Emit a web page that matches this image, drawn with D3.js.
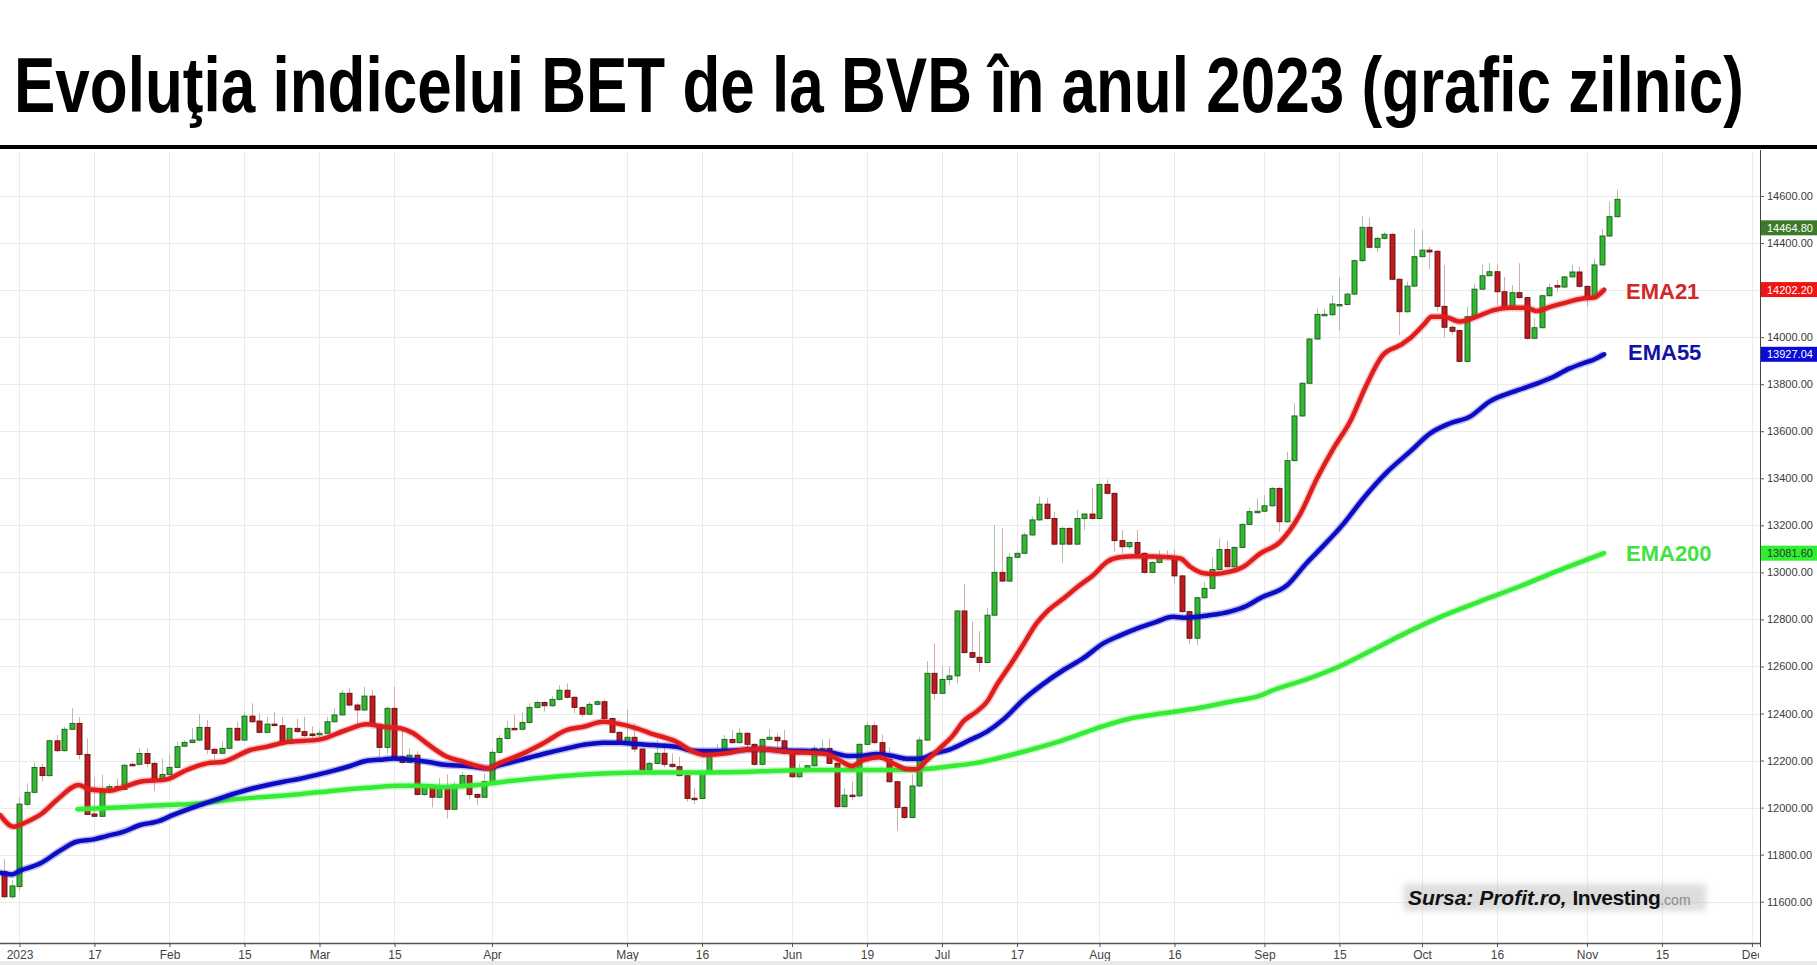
<!DOCTYPE html>
<html><head><meta charset="utf-8">
<script src="https://cdn.jsdelivr.net/npm/d3@7"></script>
<style>body{margin:0;background:#fff;overflow:hidden} svg{display:block}</style>
</head><body>
<svg id="chart" width="1817" height="965"></svg>
<script>
// ---------- DATA ----------
const titleText = "Evoluţia indicelui BET de la BVB în anul 2023 (grafic zilnic)";
const firstIndex = -2; // two sessions of late Dec 2022 precede 3 Jan 2023 (index 0)
const openV  = [11728,11621,11664,12014,12065,12171,12136,12284,12242,12333,12358,12226,11973,11963,12077,12089,12077,12184,12184,12230,12188,12121,12141,12171,12261,12277,12287,12341,12248,12231,12252,12337,12287,12389,12368,12320,12355,12348,12284,12337,12323,12313,12313,12316,12365,12394,12486,12436,12415,12474,12354,12256,12422,12216,12192,12223,12056,12086,12044,12085,11993,12096,12136,12056,12044,12110,12235,12294,12337,12333,12362,12426,12447,12433,12460,12499,12469,12426,12397,12439,12450,12379,12320,12270,12299,12249,12160,12188,12231,12184,12174,12136,12040,12039,12150,12235,12245,12290,12276,12316,12269,12184,12290,12299,12284,12231,12131,12163,12178,12252,12252,12188,12004,12053,12050,12269,12348,12276,12205,12110,12001,11958,12092,12287,12571,12486,12545,12560,12836,12659,12639,12617,12818,13000,12963,13064,13081,13159,13223,13290,13229,13120,13187,13120,13229,13248,13229,13374,13336,13135,13109,13127,13081,13000,13042,13070,13067,12985,12833,12720,12892,12932,13012,13097,13024,13106,13204,13258,13260,13283,13357,13215,13475,13665,13804,13992,14097,14095,14139,14139,14183,14325,14467,14382,14420,14437,14246,14108,14217,14342,14370,14365,14131,14042,14028,13897,14087,14204,14261,14278,14193,14118,14189,14168,13995,14040,14176,14219,14213,14256,14277,14216,14166,14307,14430,14512];
const highV  = [11781,11692,12043,12103,12192,12185,12290,12308,12344,12422,12384,12294,12128,12141,12100,12124,12188,12195,12252,12252,12195,12209,12228,12280,12287,12337,12398,12372,12255,12280,12341,12365,12408,12443,12401,12386,12405,12386,12341,12379,12386,12345,12330,12386,12422,12500,12507,12445,12514,12500,12360,12430,12514,12330,12252,12240,12095,12092,12126,12141,12110,12150,12142,12062,12145,12252,12308,12368,12394,12405,12443,12457,12452,12474,12521,12528,12474,12430,12450,12457,12460,12384,12325,12418,12358,12254,12195,12290,12273,12230,12216,12140,12082,12155,12240,12269,12308,12330,12337,12320,12273,12294,12333,12316,12330,12236,12188,12182,12266,12290,12294,12192,12085,12110,12275,12365,12362,12310,12255,12115,12005,12140,12302,12623,12698,12600,12600,12840,12950,12790,12750,12850,13201,13187,13081,13090,13169,13237,13322,13315,13258,13195,13192,13265,13252,13357,13378,13395,13340,13180,13130,13180,13085,13046,13094,13094,13097,12990,12838,12897,12960,13063,13145,13135,13110,13208,13276,13315,13329,13362,13362,13513,13719,13810,13997,14122,14121,14178,14256,14190,14330,14515,14508,14425,14446,14442,14250,14236,14459,14455,14384,14370,14306,14050,14032,14129,14228,14309,14316,14309,14256,14222,14314,14172,14080,14180,14228,14242,14260,14309,14300,14220,14335,14458,14576,14626];
const lowV   = [11615,11612,11647,12008,12060,12110,12130,12236,12238,12328,12205,11968,11960,11960,12072,12070,12074,12176,12180,12171,12070,12117,12137,12166,12257,12273,12283,12228,12203,12227,12248,12283,12283,12360,12316,12316,12345,12262,12280,12318,12300,12297,12300,12312,12360,12390,12430,12354,12410,12350,12214,12230,12210,12185,12188,12050,12050,12001,12040,11954,11988,12092,12035,12011,12040,12105,12230,12290,12330,12328,12358,12422,12408,12428,12455,12464,12401,12384,12392,12434,12374,12316,12266,12266,12235,12157,12155,12183,12171,12170,12132,12025,12015,12035,12145,12230,12240,12272,12272,12245,12177,12180,12286,12245,12227,12127,12127,12150,12174,12248,12184,11997,12000,12032,12045,12265,12270,12200,12105,11902,11950,11954,12088,12283,12457,12482,12520,12528,12655,12635,12578,12613,12814,12960,12958,13060,13077,13155,13219,13225,13115,13042,13115,13116,13180,13225,13225,13330,13088,13081,13100,13076,12995,12996,13038,13060,12953,12828,12695,12691,12888,12928,13008,13020,13020,13102,13200,13250,13255,13279,13173,13210,13470,13660,13800,13988,14092,14090,14028,14135,14178,14320,14378,14360,14415,14242,14009,14104,14213,14338,14289,14110,13998,14012,13893,13893,14083,14200,14257,14135,14113,14114,14165,13990,13991,14036,14172,14190,14209,14252,14210,14130,14162,14303,14426,14508];
const closeV = [11621,11667,12015,12065,12171,12136,12284,12242,12333,12358,12226,11971,11963,12075,12089,12077,12180,12180,12230,12188,12121,12141,12171,12259,12277,12287,12341,12248,12231,12252,12337,12287,12389,12365,12320,12355,12349,12284,12337,12323,12306,12311,12316,12365,12394,12486,12436,12415,12474,12354,12256,12422,12216,12192,12223,12056,12086,12044,12085,11993,12096,12136,12056,12044,12110,12235,12294,12337,12331,12362,12426,12447,12433,12460,12499,12469,12426,12397,12439,12450,12379,12320,12270,12299,12249,12160,12188,12231,12184,12174,12136,12039,12039,12150,12235,12245,12290,12276,12316,12269,12184,12290,12299,12284,12231,12131,12163,12178,12252,12252,12188,12004,12053,12049,12269,12348,12276,12205,12110,12001,11958,12092,12287,12571,12486,12545,12560,12836,12659,12639,12617,12818,13000,12963,13064,13081,13159,13223,13290,13229,13120,13187,13120,13229,13248,13229,13374,13336,13135,13109,13127,13081,13000,13042,13070,13064,12985,12833,12720,12892,12932,13012,13097,13024,13106,13204,13258,13260,13283,13357,13215,13475,13665,13804,13992,14097,14097,14141,14139,14183,14325,14467,14382,14420,14437,14246,14108,14217,14342,14370,14362,14131,14042,14025,13897,14087,14204,14261,14278,14193,14118,14189,14168,13995,14040,14176,14210,14213,14256,14277,14216,14166,14307,14430,14512,14586];

// x-axis: trading-session index of each labelled date
const xTickIdx    = [0, 10, 20, 30, 40, 50, 63, 81, 91, 103, 113, 123, 133, 144, 154, 166, 176, 187, 197, 209, 219, 231];
const xTickLabels = ["2023","17","Feb","15","Mar","15","Apr","May","16","Jun","19","Jul","17","Aug","16","Sep","15","Oct","16","Nov","15","Dec"];
const yTicks = [11600, 11800, 12000, 12200, 12400, 12600, 12800, 13000, 13200, 13400, 13600, 13800, 14000, 14200, 14400, 14600];

// moving averages (session index, value)
const ema21Idx = [-2.6,-0.8,1,3,5.2,7.9,9.4,12.1,13.4,16.1,19.6,22.3,25,27.2,30.8,33,35.2,40.1,43.6,46.3,48.5,50.8,52.5,54.3,57,59.2,61,62.5,64.1,66.7,69.8,73,75.2,77.8,79.6,82.3,84.1,87.6,89.8,91.2,94.3,96.5,98.7,101,103.2,105.4,107.6,109.4,111,112.5,114.7,116.5,118.3,119.6,121,122.7,124.5,125.8,127.6,129,130.3,132.1,133.8,135.6,137,139.2,141.4,143.2,145,146.7,149,151.2,153.4,154.8,156.1,157.9,159.2,161.4,163.2,165.4,168.1,170.7,173,175.2,177.4,179.6,181.8,184.1,185.4,187.2,188.3,189.9,192.1,194.3,196.6,198.7,201,202.3,204.1,206.3,208.6,209.9,211.3];
const ema21Val = [11969,11919,11940,11975,12039,12096,12077,12072,12082,12110,12120,12160,12188,12195,12245,12259,12276,12290,12330,12354,12344,12337,12316,12273,12216,12195,12177,12167,12191,12224,12273,12330,12344,12365,12358,12337,12316,12280,12238,12224,12231,12245,12249,12242,12235,12233,12228,12200,12177,12202,12214,12188,12164,12163,12202,12252,12308,12365,12408,12450,12521,12606,12691,12783,12833,12889,12946,12989,13045,13064,13069,13067,13064,13059,13024,12996,12993,13003,13024,13080,13130,13244,13399,13527,13640,13797,13924,13966,13995,14052,14087,14087,14066,14087,14115,14125,14125,14111,14129,14148,14165,14168,14202];
const ema55Idx = [-2.6,-1,0.1,2.8,5.4,7.6,9.9,11.6,13.9,16.1,18.3,20.5,22.8,25.4,27.6,30.3,32.5,35.2,37.4,39.6,41.9,44.1,46.3,48.5,49.9,51.6,54.3,57,59.6,62.3,64.1,66.7,69.8,73,75.6,77.8,80.1,82.3,84.5,87.6,89.8,92.1,94.3,96.5,98.7,101,103.2,105.4,108.1,110.7,112.5,114.3,116.5,118.3,120.1,121.8,124.1,126.7,129,131.2,133.8,136.6,139.2,141.8,144.5,146.7,149.4,151.6,153.8,155.2,156.5,158.3,161.4,163.6,165.4,169,171.6,173,176.5,179.2,182.3,185.4,188.1,190.7,193.4,196,199.2,201.8,204.1,206.7,208.5,209.8,211.3];
const ema55Val = [11723,11716,11732,11763,11817,11855,11865,11879,11898,11926,11940,11969,11997,12025,12049,12075,12092,12110,12123,12139,12157,12177,12199,12205,12209,12205,12195,12181,12177,12167,12181,12202,12228,12252,12269,12276,12276,12270,12266,12259,12242,12241,12242,12245,12249,12245,12242,12241,12235,12219,12221,12228,12219,12208,12208,12228,12248,12287,12323,12375,12457,12528,12585,12634,12698,12731,12766,12790,12811,12807,12809,12816,12833,12857,12890,12945,13039,13085,13205,13315,13425,13513,13591,13633,13662,13726,13768,13797,13825,13867,13889,13903,13927];
const ema200Idx = [7.7,10.8,15.2,19.6,24.1,28.5,33,37.4,41.9,46.3,50.8,53.4,56.5,61,65.4,69.8,74.3,78.7,83.2,87.6,92.1,96.5,101,105.4,109.4,112.5,117,120.5,123.6,127.2,130.3,134.7,139.2,143.6,148.1,152.5,157,161.4,165.4,167.2,171.6,176.1,180.5,185,189.4,195,200,205,211.3];
const ema200Val = [11993,11997,12004,12011,12018,12035,12046,12057,12072,12084,12093,12093,12088,12096,12113,12127,12139,12146,12149,12149,12149,12151,12157,12160,12160,12160,12160,12163,12174,12188,12209,12245,12287,12337,12379,12401,12422,12450,12476,12500,12545,12602,12672,12745,12810,12880,12940,13005,13082];

const emaNames  = ["EMA21", "EMA55", "EMA200"];
const emaColors = ["#e01d1d", "#0c0cc4", "#35ec35"];
const emaLabelColors = ["#d42626", "#1212a8", "#3fe23f"];
const emaLabelValues = [14202.20, 13927.04, 13081.60];
const lastPriceLabel = 14464.80;

// ---------- DRAW ----------
const svg = d3.select("#chart");
const W = 1817, H = 965;
const plot = {left: 0, right: 1760, top: 150, bottom: 943};

const x = d3.scaleLinear().domain([-2.6, 232.07]).range([plot.left, plot.right]);
const y = d3.scaleLinear().domain([11600, 14600]).range([901.7, 196]);

svg.append("rect").attr("width", W).attr("height", H).attr("fill", "#fff");

// title (condensed bold, stretched to the reference width)
const tg = svg.append("g");
const tt = tg.append("text").attr("x", 0).attr("y", 0)
  .style("font-family", "'Liberation Sans', Arial, sans-serif")
  .style("font-weight", "bold").style("font-size", "77px").attr("fill", "#000")
  .text(titleText);
const natW = tt.node().getComputedTextLength();
tg.attr("transform", `translate(14,112) scale(${1730 / natW},1)`);
svg.append("rect").attr("x", 0).attr("y", 145).attr("width", W).attr("height", 4).attr("fill", "#000");

// grid
const grid = svg.append("g");
grid.selectAll("line.h").data(yTicks).join("line")
  .attr("x1", plot.left).attr("x2", plot.right)
  .attr("y1", d => Math.round(y(d)) + 0.5).attr("y2", d => Math.round(y(d)) + 0.5)
  .attr("stroke", "#ebebeb").attr("stroke-width", 1);
grid.selectAll("line.v").data(xTickIdx).join("line")
  .attr("x1", d => Math.round(x(d)) + 0.5).attr("x2", d => Math.round(x(d)) + 0.5)
  .attr("y1", plot.top + 2).attr("y2", plot.bottom)
  .attr("stroke", "#ebebeb").attr("stroke-width", 1);

// clip
const defs = svg.append("defs");
defs.append("clipPath").attr("id", "clip").append("rect")
  .attr("x", plot.left).attr("y", plot.top).attr("width", plot.right - plot.left).attr("height", plot.bottom - plot.top);
defs.append("clipPath").attr("id", "clipx").append("rect")
  .attr("x", 0).attr("y", plot.bottom).attr("width", plot.right - 1).attr("height", 30);

const cg = svg.append("g").attr("clip-path", "url(#clip)");
const candles = d3.range(openV.length).map(k => ({
  i: firstIndex + k, o: openV[k], h: highV[k], l: lowV[k], c: closeV[k]
}));

// wicks
cg.append("g").selectAll("line").data(candles).join("line")
  .attr("x1", d => Math.round(x(d.i)) + 0.5).attr("x2", d => Math.round(x(d.i)) + 0.5)
  .attr("y1", d => y(d.h)).attr("y2", d => y(d.l))
  .attr("stroke", d => d.c >= d.o ? "#a9c4a9" : "#d8a9a9").attr("stroke-width", 1);

// bodies
cg.append("g").selectAll("rect").data(candles).join("rect")
  .attr("x", d => Math.round(x(d.i)) - 2)
  .attr("width", 5)
  .attr("y", d => y(Math.max(d.o, d.c)))
  .attr("height", d => Math.max(1.5, Math.abs(y(d.o) - y(d.c))))
  .attr("fill", d => d.c >= d.o ? "#30b830" : "#c2191c")
  .attr("stroke", d => d.c >= d.o ? "#1e5a1e" : "#5c1010")
  .attr("stroke-width", 0.9);

// EMA lines
const emaSets = [[ema21Idx, ema21Val], [ema55Idx, ema55Val], [ema200Idx, ema200Val]];
const line = d3.line().x(d => x(d[0])).y(d => y(d[1])).curve(d3.curveMonotoneX);
[2, 1, 0].forEach(k => {
  const pts = emaSets[k][0].map((v, j) => [v, emaSets[k][1][j]]);
  cg.append("path").datum(pts).attr("d", line)
    .attr("fill", "none").attr("stroke", emaColors[k]).attr("stroke-opacity", 0.25)
    .attr("stroke-width", 7.5).attr("stroke-linejoin", "round");
  cg.append("path").datum(pts).attr("d", line)
    .attr("fill", "none").attr("stroke", emaColors[k])
    .attr("stroke-width", 4.5).attr("stroke-linejoin", "round").attr("stroke-linecap", "round");
});

// EMA name labels
const labelPos = [[1626, 299], [1628, 360], [1626, 561]];
emaNames.forEach((n, k) => {
  svg.append("text").attr("x", labelPos[k][0]).attr("y", labelPos[k][1])
    .style("font-family", "'Liberation Sans', Arial, sans-serif").style("font-weight", "bold")
    .style("font-size", "22px").attr("fill", emaLabelColors[k]).text(n);
});

// axes lines
svg.append("line").attr("x1", plot.right + 0.5).attr("x2", plot.right + 0.5).attr("y1", plot.top).attr("y2", plot.bottom + 4)
  .attr("stroke", "#444").attr("stroke-width", 1);
svg.append("line").attr("x1", 0).attr("x2", plot.right + 1).attr("y1", plot.bottom + 0.5).attr("y2", plot.bottom + 0.5)
  .attr("stroke", "#555").attr("stroke-width", 1.5);

// right axis
const yAxis = d3.axisRight(y).tickValues(yTicks).tickSize(4).tickPadding(3).tickFormat(d3.format(".2f"));
const ya = svg.append("g").attr("transform", `translate(${plot.right},0)`).call(yAxis);
ya.select(".domain").remove();
ya.selectAll("line").attr("stroke", "#555");
ya.selectAll("text").style("font-family", "'Liberation Sans', Arial, sans-serif").style("font-size", "11px").attr("fill", "#3a3a3a");

// bottom axis (labels clipped at the price axis, as "Dec" is in the reference)
const xAxis = d3.axisBottom(x).tickValues(xTickIdx).tickSize(4).tickPadding(3).tickFormat((d, k) => xTickLabels[k]);
const xa = svg.append("g").attr("clip-path", "url(#clipx)").append("g").attr("transform", `translate(0,${plot.bottom})`).call(xAxis);
xa.select(".domain").remove();
xa.selectAll("line").attr("stroke", "#555");
xa.selectAll("text").style("font-family", "'Liberation Sans Narrow', 'Liberation Sans', Arial, sans-serif")
  .style("font-size", "12px").attr("fill", "#444");

// value boxes on right axis
const boxes = [
  {v: lastPriceLabel, bg: "#3d7a27", fg: "#fff"},
  {v: emaLabelValues[0], bg: "#f01414", fg: "#fff"},
  {v: emaLabelValues[1], bg: "#0a0ad6", fg: "#fff"},
  {v: emaLabelValues[2], bg: "#2ef02e", fg: "#333"}
];
const bg = svg.append("g");
boxes.forEach(b => {
  bg.append("rect").attr("x", plot.right + 1).attr("y", y(b.v) - 7.5).attr("width", W - plot.right - 1).attr("height", 15).attr("fill", b.bg);
  bg.append("text").attr("x", plot.right + 7).attr("y", y(b.v) + 4)
    .style("font-family", "'Liberation Sans', Arial, sans-serif").style("font-size", "11px").attr("fill", b.fg)
    .text(d3.format(".2f")(b.v));
});

// source note
const f = defs.append("filter").attr("id", "blur").attr("x", "-10%").attr("y", "-50%").attr("width", "120%").attr("height", "200%");
f.append("feGaussianBlur").attr("stdDeviation", 3);
svg.append("rect").attr("x", 1404).attr("y", 884).attr("width", 302).attr("height", 27).attr("fill", "#bdbdbd").attr("opacity", 0.5).attr("filter", "url(#blur)");
const src = svg.append("text").attr("x", 1408).attr("y", 905)
  .style("font-family", "'Liberation Sans', Arial, sans-serif").style("font-size", "21px").attr("fill", "#111");
src.append("tspan").style("font-weight", "bold").style("font-style", "italic").text("Sursa: Profit.ro, ");
src.append("tspan").style("font-weight", "bold").attr("letter-spacing", "-0.5").text("Investing");
src.append("tspan").style("font-size", "14px").attr("fill", "#8a8a8a").text(".com");

// bottom band
svg.append("rect").attr("x", 0).attr("y", 961).attr("width", W).attr("height", 4).attr("fill", "#e9e9e9");
</script>
</body></html>
